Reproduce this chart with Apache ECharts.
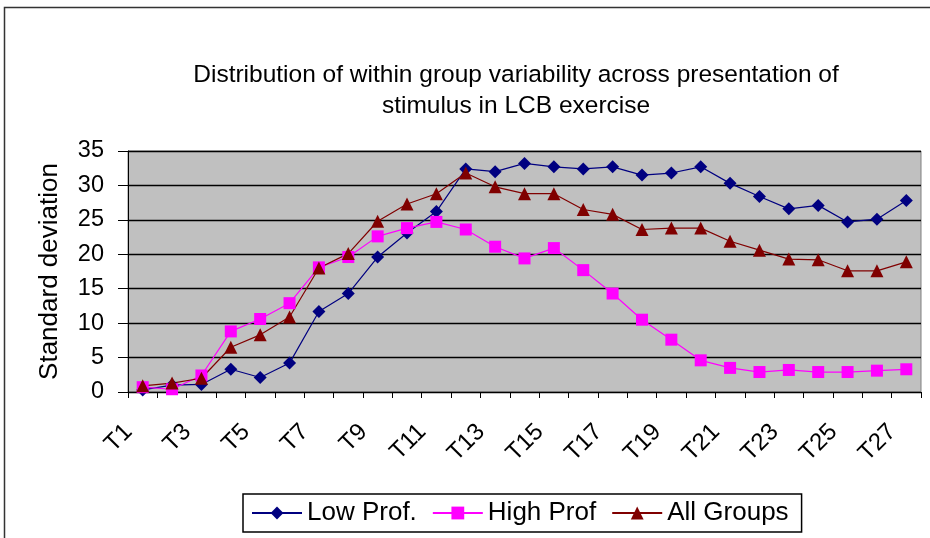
<!DOCTYPE html>
<html>
<head>
<meta charset="utf-8">
<script src="https://cdn.jsdelivr.net/npm/echarts@6/dist/echarts.min.js"></script>
<style>html,body{margin:0;padding:0;background:#fff}#c{width:930px;height:538px}</style>
</head>
<body>
<div id="c"></div>
<script>
const categories = ['T1','T2','T3','T4','T5','T6','T7','T8','T9','T10','T11','T12','T13','T14','T15','T16','T17','T18','T19','T20','T21','T22','T23','T24','T25','T26','T27'];
const lowProf = [0.3,1.0,1.1,3.3,2.1,4.2,11.7,14.3,19.6,23.1,26.2,32.4,32.0,33.2,32.7,32.4,32.7,31.5,31.8,32.7,30.3,28.4,26.6,27.1,24.7,25.1,27.8];
const highProf = [0.7,0.4,2.4,8.8,10.6,12.9,18.1,19.6,22.6,23.8,24.7,23.6,21.1,19.4,20.9,17.7,14.3,10.5,7.6,4.6,3.5,2.9,3.2,2.9,2.9,3.1,3.3];
const allGroups = [0.9,1.3,2.0,6.5,8.3,10.9,18.0,20.1,24.8,27.3,28.8,31.8,29.8,28.8,28.8,26.5,25.8,23.6,23.8,23.8,21.9,20.6,19.3,19.2,17.6,17.6,18.9];
const yTicks = {min:0, max:35, interval:5};
const seriesNames = ['Low Prof.','High Prof','All Groups'];

const chart = echarts.init(document.getElementById('c'));
const font = 'Liberation Sans, Arial, sans-serif';
chart.setOption({
  animation:false,
  backgroundColor:'#fff',
  title:{
    text:'Distribution of within group variability across presentation of\nstimulus in LCB exercise',
    left:511, textAlign:'center', top:55,
    textStyle:{fontFamily:font, fontSize:24.5, fontWeight:'normal', color:'#000', lineHeight:31}
  },
  graphic:[{type:'rect', shape:{x:4.5,y:7.5,width:1000,height:1000}, style:{fill:'none', stroke:'#333', lineWidth:1.5}, z:-1}],
  legend:{
    data:seriesNames,
    left:243, top:494,
    padding:[6,13,6,8],
    borderColor:'#000', borderWidth:1.5,
    itemWidth:50, itemHeight:16, itemGap:15,
    textStyle:{fontFamily:font, fontSize:26, color:'#000'}
  },
  grid:{left:128, right:9, top:151, bottom:146, show:true, backgroundColor:'#c0c0c0', borderColor:'#808080', borderWidth:1},
  xAxis:{
    type:'category', data:categories, boundaryGap:true,
    axisLine:{lineStyle:{color:'#000', width:1}},
    axisTick:{show:true, length:6, interval:0, lineStyle:{color:'#000'}},
    axisLabel:{interval:1, rotate:45, margin:22, padding:[0,20,0,0], fontFamily:font, fontSize:24, color:'#000'}
  },
  yAxis:{
    type:'value', min:yTicks.min, max:yTicks.max, interval:yTicks.interval,
    name:'Standard deviation', nameLocation:'middle', nameGap:65, nameRotate:90,
    nameTextStyle:{fontFamily:font, fontSize:26, color:'#000'},
    axisLine:{show:true, lineStyle:{color:'#000', width:1}},
    axisTick:{show:true, length:10, lineStyle:{color:'#000'}},
    axisLabel:{fontFamily:font, fontSize:23.5, color:'#000', margin:24},
    splitLine:{lineStyle:{color:'#000', width:1.4}}
  },
  series:[
    {name:seriesNames[0], type:'line', data:lowProf, symbol:'diamond', symbolSize:13, color:'#000080', lineStyle:{width:1.2, color:'#000080'}, itemStyle:{color:'#000080'}},
    {name:seriesNames[1], type:'line', data:highProf, symbol:'rect', symbolSize:12, color:'#ff00ff', lineStyle:{width:1.2, color:'#ff00ff'}, itemStyle:{color:'#ff00ff'}},
    {name:seriesNames[2], type:'line', data:allGroups, symbol:'triangle', symbolSize:13, color:'#800000', lineStyle:{width:1.2, color:'#800000'}, itemStyle:{color:'#800000'}}
  ]
});
</script>
</body>
</html>
